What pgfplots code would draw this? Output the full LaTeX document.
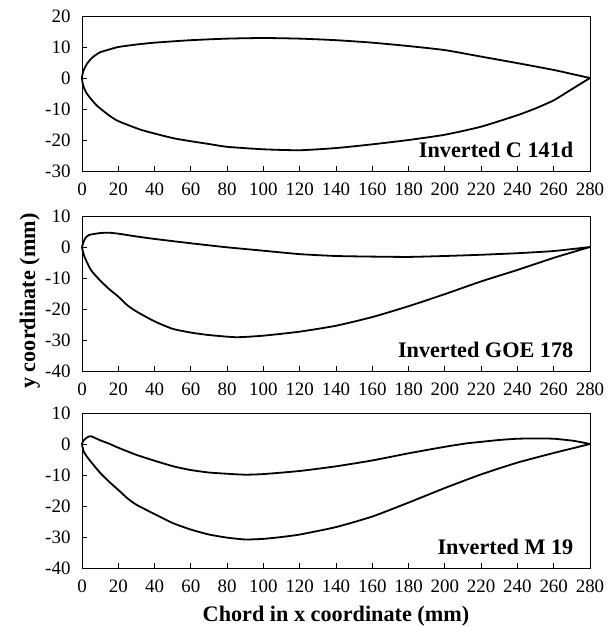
\documentclass[border=0pt]{standalone}
\usepackage{fontspec}
\setmainfont{Liberation Serif}
\usepackage{pgfplots}
\pgfplotsset{compat=1.18}
\pgfplotsset{
  myax/.style={
    scale only axis, width=508bp, height=155bp,
    xmin=0, xmax=280, xtick={0,20,...,280},
    tick align=inside, xtick pos=bottom, ytick pos=left,
    major tick length=5bp,
    axis line style={line width=0.9bp, black},
    tick style={line width=0.9bp, black},
    every tick label/.append style={font=\fontsize{19}{20}\selectfont},
    /pgf/number format/assume math mode=true,
    yticklabel style={xshift=-8bp},
    xticklabel style={yshift=-8bp},
    clip=false,
  },
  foil/.style={black, line width=1.8bp, no markers, smooth, tension=0.35},
}
\newcommand{\lab}{\bfseries\fontsize{22.3}{24}\selectfont}
\begin{document}
\begin{tikzpicture}
\useasboundingbox (0,0) rectangle (614bp,-626bp);
% Panel 1
\begin{axis}[myax, at={(82bp,-16bp)}, anchor=north west, ymin=-30, ymax=20, ytick={-30,-20,...,20}]
\addplot[foil] coordinates {
(280,0) (270,1.3) (260,2.6) (240,4.8) (220,6.9) (200,9.0) (180,10.3) (160,11.4) (140,12.2) (120,12.7) (100,12.9) (80,12.7) (60,12.2) (40,11.4) (30,10.8) (20,10.0) (15,9.2) (10,8.3) (7,7.2) (5,6.2) (3,4.8) (2,3.8) (1,2.6) (0.3,1.3) (0,0)
(0.3,-1.5) (1,-3) (2,-4.4) (3,-5.3) (5,-6.8) (8,-8.8) (10,-9.8) (15,-12.1) (20,-13.9) (33,-16.8) (51,-19.5) (70,-21.3) (80,-22.2) (100,-23.0) (120,-23.3) (140,-22.6) (160,-21.4) (180,-20.0) (200,-18.3) (220,-15.7) (240,-12.0) (250,-9.8) (260,-7.2) (270,-3.6) (280,0)
};
\node[anchor=base east, font=\lab] at (rel axis cs:0.974,0.09) {Inverted C 141d};
\end{axis}
% Panel 2
\begin{axis}[myax, at={(82bp,-216bp)}, anchor=north west, ymin=-40, ymax=10, ytick={-40,-30,...,10},
  ylabel={y coordinate (mm)},
  ylabel style={font=\lab, at={(axis description cs:-0.0925,0.451)}, anchor=base, rotate=0}]
\addplot[foil] coordinates {
(280,0) (260,-1.3) (240,-2.0) (220,-2.5) (200,-2.9) (180,-3.2) (160,-3.1) (140,-2.9) (120,-2.3) (100,-1.2) (80,-0.1) (60,1.2) (40,2.6) (30,3.4) (20,4.3) (15,4.6) (10,4.5) (4,3.9) (2,3.0) (1,1.8) (0,0)
(1,-2.5) (2,-4) (5,-7.5) (10,-10.8) (15,-13.6) (20,-16) (25,-18.8) (30,-20.8) (40,-24) (50,-26.4) (60,-27.6) (70,-28.4) (85,-29.1) (100,-28.6) (120,-27.3) (140,-25.4) (160,-22.6) (180,-19.1) (200,-15.2) (220,-11.1) (240,-7.4) (260,-3.5) (280,0)
};
\node[anchor=base east, font=\lab] at (rel axis cs:0.974,0.086) {Inverted GOE 178};
\end{axis}
% Panel 3
\begin{axis}[myax, at={(82bp,-413bp)}, anchor=north west, ymin=-40, ymax=10, ytick={-40,-30,...,10},
  xlabel={Chord in x coordinate (mm)},
  xlabel style={font=\lab, at={(axis description cs:0.5,-0.345)}, anchor=base}]
\addplot[foil] coordinates {
(280,0) (275,0.6) (270,1.1) (260,1.7) (250,1.8) (240,1.7) (230,1.3) (220,0.7) (212,0.2) (200,-0.9) (180,-3.0) (160,-5.3) (140,-7.2) (120,-8.7) (100,-9.7) (90,-9.9) (80,-9.6) (70,-9.2) (60,-8.4) (51,-7.3) (40,-5.4) (30,-3.5) (20,-1.2) (15,0.1) (10,1.2) (5,2.5) (3,2.2) (1,1.2) (0,0)
(1,-2.5) (3,-4.3) (5,-5.8) (10,-9.3) (15,-12.2) (20,-14.8) (25,-17.5) (30,-19.6) (40,-22.6) (50,-25.5) (60,-27.6) (70,-29.2) (80,-30.2) (90,-30.8) (100,-30.6) (110,-30.0) (120,-29.2) (140,-26.8) (160,-23.4) (180,-18.9) (200,-14.2) (220,-9.8) (240,-6.0) (260,-2.9) (280,0)
};
\node[anchor=base east, font=\lab] at (rel axis cs:0.974,0.09) {Inverted M 19};
\end{axis}
\end{tikzpicture}
\end{document}
